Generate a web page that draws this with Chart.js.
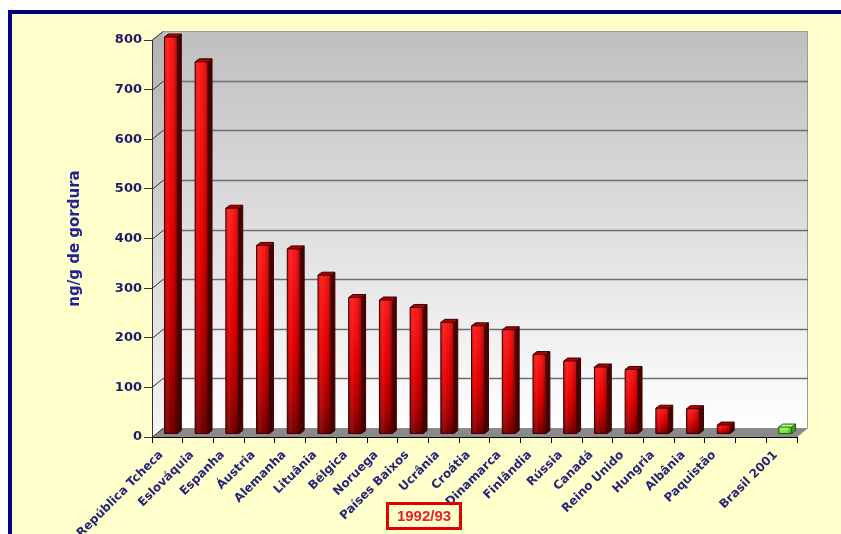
<!DOCTYPE html>
<html>
<head>
<meta charset="utf-8">
<script src="https://cdn.jsdelivr.net/npm/chart.js@4.4.0/dist/chart.umd.min.js"></script>
<style>
    html, body { margin: 0; padding: 0; background: #ffffff; }
    body { position: relative; width: 841px; height: 534px; overflow: hidden; }
    #frame {
        position: absolute; left: 8px; top: 10px; width: 900px; height: 600px;
        border: 4px solid #000080; background: #ffffcc;
    }
    #chart { position: absolute; left: 0; top: 0; }
    #period {
        position: absolute; left: 386px; top: 502px; width: 76px; height: 28px;
        box-sizing: border-box; border: 3px solid #e00000;
        font: bold 15px "Liberation Sans", Arial, sans-serif; color: #e02424;
        text-align: center; line-height: 22px;
    }
</style>
</head>
<body>
<div id="frame"></div>
<canvas id="chart" width="841" height="534"></canvas>
<div id="period">1992/93</div>
<script>
// Categories (one empty slot before Brasil 2001, as in the original)
var countries = [
    "República Tcheca", "Eslováquia", "Espanha", "Áustria", "Alemanha",
    "Lituânia", "Bélgica", "Noruega", "Países Baixos", "Ucrânia",
    "Croátia", "Dinamarca", "Finlândia", "Rússia", "Canadá",
    "Reino Unido", "Hungria", "Albânia", "Paquistão", "", "Brasil 2001"
];
// ng/g de gordura
var levels = [
    800, 750, 455, 380, 373,
    320, 275, 270, 255, 225,
    218, 210, 160, 147, 135,
    130, 52, 51, 18, null, 14
];
var yMin = 0, yMax = 800, yStep = 100;
var highlighted = "Brasil 2001";

var DX = 11, DY = -9;   // depth of the plot box
var BDX = 4, BDY = -3;  // depth of each bar

function poly(ctx, pts) {
    ctx.beginPath();
    ctx.moveTo(pts[0][0], pts[0][1]);
    for (var i = 1; i < pts.length; i++) ctx.lineTo(pts[i][0], pts[i][1]);
    ctx.closePath();
}

// walls, floor and gridlines of the 3D box
var box3d = {
    id: "box3d",
    beforeDraw: function (chart) {
        var ctx = chart.ctx, a = chart.chartArea, ys = chart.scales.y;
        ctx.save();

        var g = ctx.createLinearGradient(0, a.top + DY, 0, a.bottom + DY);
        g.addColorStop(0, "#bfbfbf");
        g.addColorStop(1, "#ffffff");
        ctx.fillStyle = g;
        ctx.fillRect(a.left + DX, a.top + DY, a.right - a.left, a.bottom - a.top);

        var lg = ctx.createLinearGradient(0, a.top, 0, a.bottom);
        lg.addColorStop(0, "#b4b4b4");
        lg.addColorStop(1, "#f6f6f6");
        ctx.fillStyle = lg;
        poly(ctx, [[a.left, a.top], [a.left + DX, a.top + DY], [a.left + DX, a.bottom + DY], [a.left, a.bottom]]);
        ctx.fill();

        ctx.fillStyle = "#8a8a8a";
        poly(ctx, [[a.left, a.bottom], [a.right, a.bottom], [a.right + DX, a.bottom + DY], [a.left + DX, a.bottom + DY]]);
        ctx.fill();

        ctx.strokeStyle = "#9a9a9a";
        ctx.lineWidth = 1;
        ctx.beginPath();
        ctx.moveTo(a.left + DX, a.top + DY + 0.5);
        ctx.lineTo(a.right + DX - 0.5, a.top + DY + 0.5);
        ctx.lineTo(a.right + DX - 0.5, a.bottom + DY);
        ctx.lineTo(a.right, a.bottom);
        ctx.stroke();

        ys.ticks.forEach(function (t) {
            var py = Math.round(ys.getPixelForValue(t.value)) + 0.5;
            ctx.strokeStyle = "#333333";
            ctx.beginPath();
            ctx.moveTo(a.left, py);
            ctx.lineTo(a.left + DX, py + DY);
            ctx.stroke();
            if (t.value > yMin && t.value < yMax) {
                ctx.strokeStyle = "#6e6e6e";
                ctx.lineWidth = 1.3;
                ctx.beginPath();
                ctx.moveTo(a.left + DX, py + DY);
                ctx.lineTo(a.right + DX, py + DY);
                ctx.stroke();
                ctx.lineWidth = 1;
            }
        });
        ctx.restore();
    }
};

// 3D columns drawn on the bar elements the library placed
var bars3d = {
    id: "bars3d",
    afterDatasetsDraw: function (chart) {
        var ctx = chart.ctx, meta = chart.getDatasetMeta(0);
        var sx = (DX - BDX) / 2, sy = (DY - BDY) / 2;
        ctx.save();
        meta.data.forEach(function (bar, i) {
            if (levels[i] === null) return;
            var p = bar.getProps(["x", "y", "base", "width"], true);
            var x0 = p.x - p.width / 2 + sx, x1 = p.x + p.width / 2 + sx;
            var yt = p.y + sy, yb = p.base + sy;
            var green = countries[i] === highlighted;

            var fg = ctx.createLinearGradient(0, yt, 0, yb);
            if (green) {
                fg.addColorStop(0, "#a6ff6a");
                fg.addColorStop(1, "#5ee82a");
            } else {
                fg.addColorStop(0, "#ff1a1a");
                fg.addColorStop(0.5, "#e80000");
                fg.addColorStop(0.82, "#b00000");
                fg.addColorStop(1, "#780000");
            }
            ctx.fillStyle = fg;
            ctx.fillRect(x0, yt, x1 - x0, yb - yt);
            var hg = ctx.createLinearGradient(x0, 0, x1, 0);
            hg.addColorStop(0, "rgba(0,0,0,0.15)");
            hg.addColorStop(0.3, "rgba(255,255,255,0.06)");
            hg.addColorStop(0.6, "rgba(0,0,0,0)");
            hg.addColorStop(1, "rgba(0,0,0,0.32)");
            ctx.fillStyle = hg;
            ctx.fillRect(x0, yt, x1 - x0, yb - yt);

            ctx.fillStyle = green ? "#3f9a1c" : "#4a0000";
            poly(ctx, [[x1, yt], [x1 + BDX, yt + BDY], [x1 + BDX, yb + BDY], [x1, yb]]);
            ctx.fill();

            ctx.fillStyle = green ? "#b8ff88" : "#b40000";
            poly(ctx, [[x0, yt], [x0 + BDX, yt + BDY], [x1 + BDX, yt + BDY], [x1, yt]]);
            ctx.fill();

            ctx.strokeStyle = green ? "#245a10" : "#3a0000";
            ctx.lineWidth = 1;
            poly(ctx, [[x0, yb], [x0, yt], [x0 + BDX, yt + BDY], [x1 + BDX, yt + BDY], [x1 + BDX, yb + BDY], [x1, yb]]);
            ctx.stroke();
            ctx.beginPath();
            ctx.moveTo(x0, yt); ctx.lineTo(x1, yt); ctx.lineTo(x1 + BDX, yt + BDY);
            ctx.moveTo(x1, yt); ctx.lineTo(x1, yb);
            ctx.stroke();
        });
        ctx.restore();
    }
};

var ctx = document.getElementById("chart").getContext("2d");
new Chart(ctx, {
    type: "bar",
    data: {
        labels: countries,
        datasets: [
            {
                label: "ng/g de gordura",
                data: levels,
                backgroundColor: "rgba(0,0,0,0)",
                borderWidth: 0,
                barPercentage: 0.42,
                categoryPercentage: 1,
            },
        ],
    },
    options: {
        responsive: false,
        animation: false,
        layout: { padding: { top: 40, right: 44, left: 0, bottom: 0 } },
        plugins: {
            legend: { display: false },
            tooltip: { enabled: false },
        },
        scales: {
            x: {
                grid: { drawOnChartArea: false, offset: true, color: "#000000", tickLength: 6 },
                border: { color: "#000000" },
                ticks: {
                    autoSkip: false,
                    maxRotation: 45,
                    minRotation: 45,
                    padding: 5,
                    labelOffset: -6,
                    color: "#26267a",
                    font: { family: "DejaVu Sans", weight: "bold", size: 12 },
                },
                afterFit: function (scale) { scale.height = 97; },
            },
            y: {
                min: yMin,
                max: yMax,
                grid: { drawOnChartArea: false, color: "#333333", tickLength: 8 },
                border: { color: "#333333" },
                ticks: {
                    stepSize: yStep,
                    padding: 2,
                    color: "#1c1c6b",
                    font: { family: "DejaVu Sans", weight: "bold", size: 13 },
                },
                title: {
                    display: true,
                    text: "ng/g de gordura",
                    color: "#23239a",
                    padding: { top: 66, bottom: 0 },
                    font: { family: "DejaVu Sans", weight: "bold", size: 15 },
                },
                afterFit: function (scale) { scale.width = 152; },
            },
        },
    },
    plugins: [box3d, bars3d],
});
</script>
</body>
</html>
